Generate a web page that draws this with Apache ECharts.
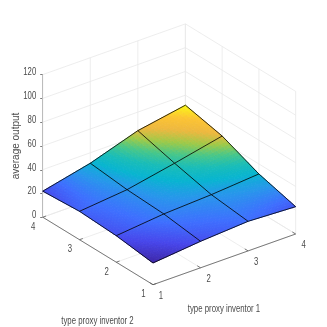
<!DOCTYPE html>
<html><head><meta charset="utf-8">
<style>html,body{margin:0;padding:0;background:#fff}#c{width:327px;height:327px}</style>
<script src="https://cdn.jsdelivr.net/npm/echarts@6/dist/echarts.min.js"></script>
</head><body><div id="c"></div>
<script>
const inventor1 = [1, 2, 3, 4];
const inventor2 = [1, 2, 3, 4];
// one row per inventor 2 level, one column per inventor 1 level
const row1 = [18.3, 22.3, 24.9, 23.0];
const row2 = [22.3, 26.4, 28.4, 31.6];
const row3 = [23.9, 27.9, 35.9, 44.6];
const row4 = [21.9, 31.2, 44.4, 51.6];
const zTicks = [0, 20, 40, 60, 80, 100, 120];
const xTickLabels = ['1', '2', '3', '4'];
const yTickLabels = ['1', '2', '3', '4'];
const xTitle = 'type proxy inventor 1';
const yTitle = 'type proxy inventor 2';
const zTitle = 'average output';

const rows = [row1, row2, row3, row4];
const vertices = [];
inventor2.forEach((y, j) => inventor1.forEach((x, i) => vertices.push([x, y, rows[j][i]])));

const TICKFONT = '10.5px "Liberation Sans",Arial,sans-serif';
const TXT = '#4a4a4a';
const GRIDC = '#e8e8e8';
const AXC = '#5a5a5a';
const PX_PER_Z = 142.6 / 120;

// oblique view of the box, expressed in the units of the two hidden/visible cartesian axes
function view(api, x, y, z) {
  const u = 110.3 + (x - 1) * 47.55 - (y - 1) * 36.75;
  const v = z + ((x - 1) * 16.9 + (y - 1) * 22.5 - 67.4) / PX_PER_Z;
  return api.coord([u, v]);
}
const parulaStops = [
  [0.2422,0.1504,0.6603],[0.2803,0.2782,0.9221],[0.2440,0.4358,0.9988],
  [0.1540,0.5902,0.9218],[0.0297,0.7082,0.8163],[0.1000,0.7400,0.7200],
  [0.2800,0.7800,0.5400],[0.6200,0.7900,0.2800],[0.9300,0.7200,0.2500],
  [0.9900,0.7700,0.2000],[0.9769,0.9839,0.0805]
];
function parula(t) {
  t = Math.max(0, Math.min(1, t)) * (parulaStops.length - 1);
  const i = Math.min(Math.floor(t), parulaStops.length - 2), f = t - i;
  const c = parulaStops[i].map((a, k) => Math.round(255 * (a + (parulaStops[i + 1][k] - a) * f)));
  return `rgb(${c[0]},${c[1]},${c[2]})`;
}
const allZ = vertices.map(v => v[2]);
const zMin = Math.min(...allZ), zMax = Math.max(...allZ);
const last = inventor1.length - 1;

function lineEl(a, b, stroke, w) {
  return { type: 'line', shape: { x1: a[0], y1: a[1], x2: b[0], y2: b[1] }, style: { stroke, lineWidth: w, fill: null } };
}
function textEl(text, p, font, sx, align) {
  return { type: 'text', x: p[0], y: p[1], scaleX: sx, scaleY: 1,
    style: { text, font, fill: TXT, align: align || 'center', verticalAlign: 'middle' } };
}

function renderBox(params, api) {
  const ch = [];
  const xs = inventor1, ys = inventor2, x0 = xs[0], x1 = xs[last], y0 = ys[0], y1 = ys[last];
  const zTop = zTicks[zTicks.length - 1];
  const P = (x, y, z) => view(api, x, y, z);
  zTicks.forEach(z => {
    ch.push(lineEl(P(x0, y1, z), P(x1, y1, z), GRIDC, 0.8));
    ch.push(lineEl(P(x1, y1, z), P(x1, y0, z), GRIDC, 0.8));
    const b = P(x0, y1, z);
    ch.push(textEl(String(z), [b[0] - 6.5, b[1] - 2], TICKFONT, 0.74, 'right'));
  });
  xs.forEach(x => {
    ch.push(lineEl(P(x, y0, 0), P(x, y1, 0), GRIDC, 0.8));
    ch.push(lineEl(P(x, y1, 0), P(x, y1, zTop), GRIDC, 0.8));
  });
  ys.forEach(y => {
    ch.push(lineEl(P(x0, y, 0), P(x1, y, 0), GRIDC, 0.8));
    ch.push(lineEl(P(x1, y, 0), P(x1, y, zTop), GRIDC, 0.8));
  });
  ch.push(lineEl(P(x0, y0, 0), P(x1, y0, 0), AXC, 0.8));
  ch.push(lineEl(P(x0, y0, 0), P(x0, y1, 0), AXC, 0.8));
  xs.forEach((x, i) => {
    const b = P(x, y0, 0);
    ch.push(lineEl(b, P(x, y0 + 0.09, 0), AXC, 0.8));
    ch.push(textEl(xTickLabels[i], [b[0] + 8, b[1] + 11], TICKFONT, 0.74));
  });
  ys.forEach((y, i) => {
    const b = P(x0, y, 0);
    ch.push(lineEl(b, P(x0 + 0.07, y, 0), AXC, 0.8));
    ch.push(textEl(yTickLabels[i], [b[0] - 9.5, b[1] + 9.8], TICKFONT, 0.74));
  });
  return { type: 'group', children: ch };
}

function renderCell(params, api) {
  const d = vertices[params.dataIndex];
  const i = inventor1.indexOf(d[0]), j = inventor2.indexOf(d[1]);
  if (i === last || j === last) return { type: 'group', children: [] };
  const xa = inventor1[i], xb = inventor1[i + 1], ya = inventor2[j], yb = inventor2[j + 1];
  const z00 = rows[j][i], z10 = rows[j][i + 1], z01 = rows[j + 1][i], z11 = rows[j + 1][i + 1];
  const N = 14, ch = [];
  const zAt = (s, t) => z00 * (1 - s) * (1 - t) + z10 * s * (1 - t) + z01 * (1 - s) * t + z11 * s * t;
  const pt = (s, t) => view(api, xa + (xb - xa) * s, ya + (yb - ya) * t, zAt(s, t));
  for (let b = N - 1; b >= 0; b--) for (let a = N - 1; a >= 0; a--) {
    const s = a / N, t = b / N, e = 1 / N;
    const c = parula((zAt(s + e / 2, t + e / 2) - zMin) / (zMax - zMin));
    ch.push({ type: 'polygon', shape: { points: [pt(s, t), pt(s + e, t), pt(s + e, t + e), pt(s, t + e)] },
      style: { fill: c, stroke: c, lineWidth: 0.9 } });
  }
  return { type: 'group', children: ch };
}

function renderEdges(params, api) {
  const d = vertices[params.dataIndex];
  const i = inventor1.indexOf(d[0]), j = inventor2.indexOf(d[1]);
  const ch = [], p = view(api, d[0], d[1], d[2]);
  if (i < last) ch.push(lineEl(p, view(api, inventor1[i + 1], d[1], rows[j][i + 1]), '#000', 0.8));
  if (j < last) ch.push(lineEl(p, view(api, d[0], inventor2[j + 1], rows[j + 1][i]), '#000', 0.8));
  return { type: 'group', children: ch };
}

function renderTitles(params, api) {
  const f = '10px "Liberation Sans",Arial,sans-serif';
  return { type: 'group', children: [
    textEl(xTitle, [224, 309], f, 0.78),
    textEl(yTitle, [97.5, 321], f, 0.78)
  ]};
}

const chart = echarts.init(document.getElementById('c'), null, { renderer: 'canvas' });
chart.setOption({
  animation: false,
  backgroundColor: '#fff',
  grid: { left: 42.7, top: 74.7, width: 253, height: 142.6, containLabel: false, outerBoundsMode: 'none' },
  xAxis: { type: 'value', min: 0, max: 253, show: false },
  yAxis: {
    type: 'value', min: 0, max: 120, interval: 20, position: 'left',
    name: zTitle, nameLocation: 'middle', nameGap: 21, nameMoveOverlap: false,
    nameTextStyle: { fontFamily: '"Liberation Sans",Arial,sans-serif', fontSize: 10, color: TXT },
    axisLine: { show: true, lineStyle: { color: AXC, width: 0.8 } },
    axisTick: { show: true, length: 2.5, lineStyle: { color: AXC, width: 0.8 } },
    axisLabel: { show: false },
    splitLine: { show: false }
  },
  series: [
    { type: 'custom', coordinateSystem: 'cartesian2d', clip: false, silent: true, z: 1,
      renderItem: renderBox, data: [[0, 0]], encode: { x: 0, y: 1 } },
    { type: 'custom', coordinateSystem: 'cartesian2d', clip: false, silent: true, z: 2,
      renderItem: renderCell, data: vertices, encode: { x: 0, y: 1 } },
    { type: 'custom', coordinateSystem: 'cartesian2d', clip: false, silent: true, z: 3,
      renderItem: renderEdges, data: vertices, encode: { x: 0, y: 1 } },
    { type: 'custom', coordinateSystem: 'cartesian2d', clip: false, silent: true, z: 4,
      renderItem: renderTitles, data: [[0, 0]], encode: { x: 0, y: 1 } }
  ]
});
</script></body></html>
